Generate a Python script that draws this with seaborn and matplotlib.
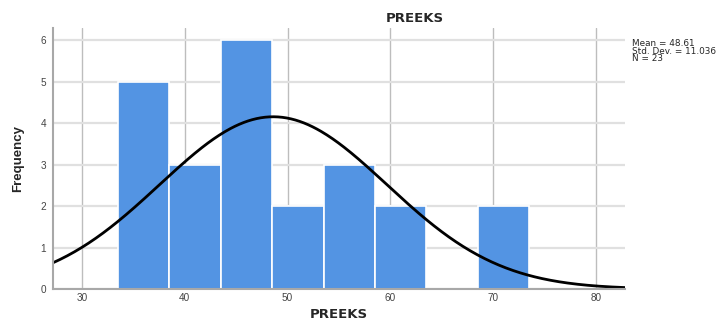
import numpy as np
import pandas as pd
import seaborn as sns
import matplotlib
matplotlib.use("Agg")
import matplotlib.pyplot as plt

# histogram data (bin centres and frequencies)
bin_centers = [36, 41, 46, 51, 56, 61, 66, 71]
counts = [5, 3, 6, 2, 3, 2, 0, 2]
bin_edges = [33.5, 38.5, 43.5, 48.5, 53.5, 58.5, 63.5, 68.5, 73.5]

# summary statistics shown in the chart
mean = 48.61
std_dev = 11.036
n_obs = 23
bin_width = 5

x_ticks = [30, 40, 50, 60, 70, 80]
y_ticks = [0, 1, 2, 3, 4, 5, 6]

df = pd.DataFrame({"PREEKS": bin_centers, "count": counts})

sns.set_theme(style="white")
plt.rcParams["font.family"] = ["Liberation Sans", "DejaVu Sans"]

fig = plt.figure(figsize=(7.19, 3.21), dpi=100)
ax = fig.add_axes([0.0737, 0.0997, 0.7955, 0.8131])

sns.histplot(
    data=df, x="PREEKS", weights="count", bins=bin_edges,
    color="#5394e3", alpha=1.0, edgecolor="white", linewidth=1.2, ax=ax,
)

# fitted normal curve scaled to frequencies
xs = np.linspace(27.2, 82.8, 400)
ys = n_obs * bin_width / (std_dev * np.sqrt(2 * np.pi)) * np.exp(-0.5 * ((xs - mean) / std_dev) ** 2)
sns.lineplot(x=xs, y=ys, color="black", linewidth=2.0, ax=ax)

ax.set_xlim(27.2, 82.8)
ax.set_ylim(0, 6.3)
ax.set_xticks(x_ticks)
ax.set_yticks(y_ticks)
ax.set_axisbelow(True)
ax.xaxis.grid(True, color="#bdbdbd", linewidth=1.0)
ax.yaxis.grid(True, color="#e0e0e0", linewidth=1.6)
ax.tick_params(axis="x", length=0, labelsize=7.2, colors="#444444", pad=3)
ax.tick_params(axis="y", length=0, labelsize=7.2, colors="#444444", pad=5)

for side in ["top", "right"]:
    ax.spines[side].set_visible(False)
for side in ["left", "bottom"]:
    ax.spines[side].set_color("#a8a8a8")
    ax.spines[side].set_linewidth(1.5)

ax.set_xlabel("PREEKS", fontsize=9.5, fontweight="bold", va="center",
              family=["DejaVu Sans"])
ax.xaxis.set_label_coords(0.5, -0.097)
ax.set_ylabel("Frequency", fontsize=9.5, fontweight="bold", va="center",
              family=["Liberation Sans Narrow", "Liberation Sans"])
ax.yaxis.set_label_coords(-0.061, 0.5)

fig.text(415 / 719, 1 - 18 / 321, "PREEKS", ha="center", va="center",
         fontsize=9.5, fontweight="bold", family=["DejaVu Sans"])
fig.text(632 / 719, 1 - 39 / 321,
         f"Mean = {mean}\nStd. Dev. = {std_dev}\nN = {n_obs}",
         ha="left", va="top", fontsize=6.4, linespacing=0.82,
         family=["DejaVu Sans"])

fig.savefig("out.png", dpi=100)
